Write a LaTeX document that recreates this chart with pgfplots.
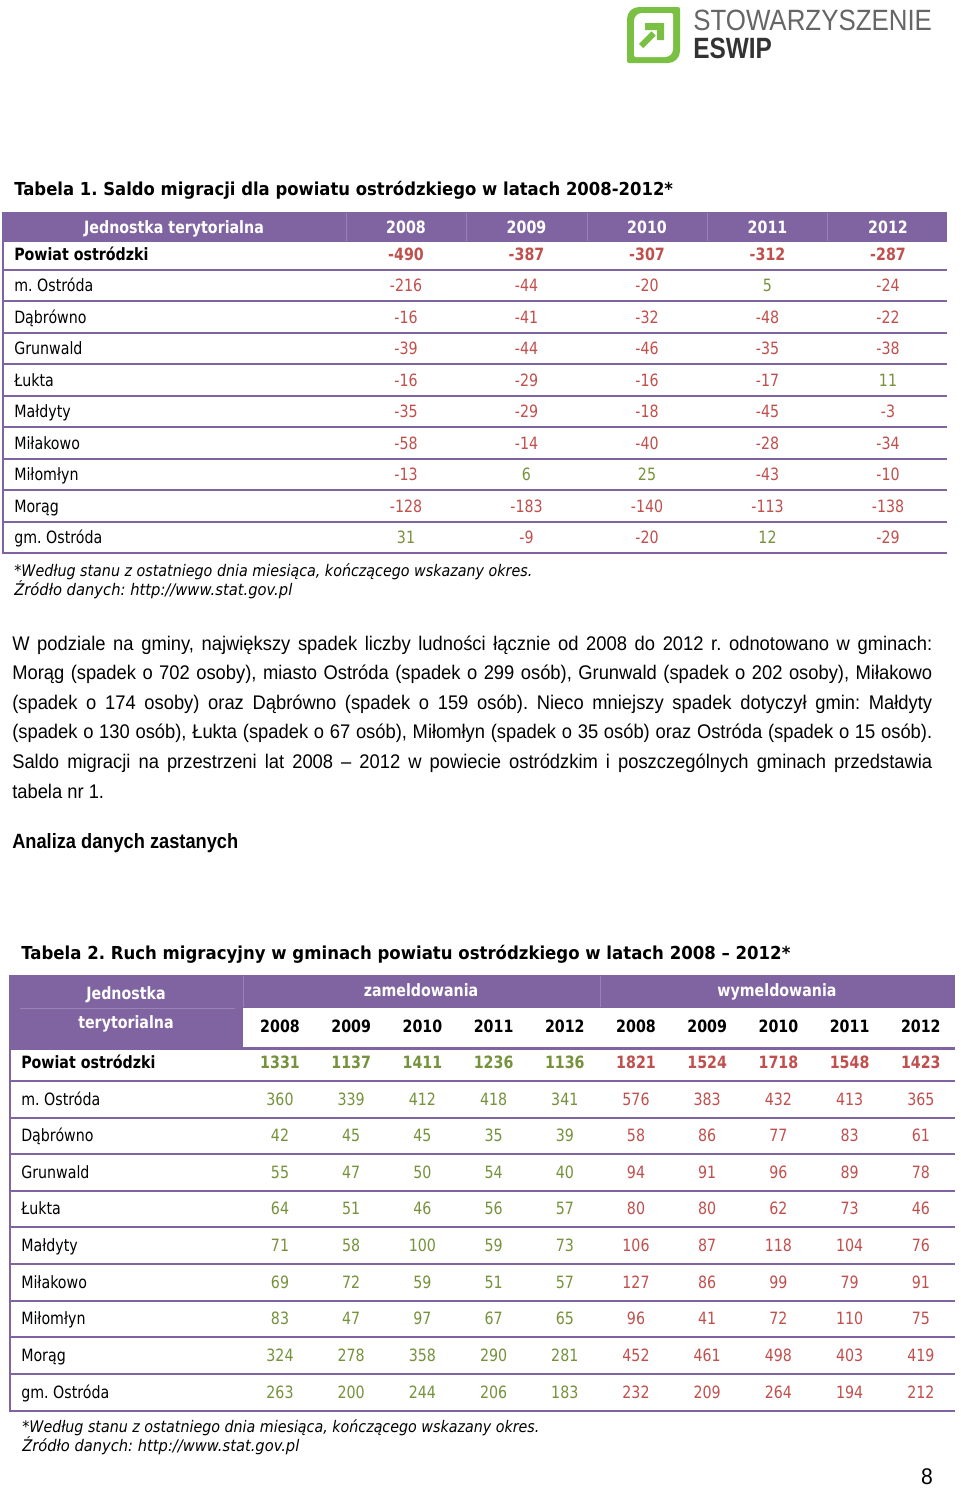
\documentclass[border=0pt]{standalone}
\usepackage{fontspec}
\usepackage{pgfplots}
\pgfplotsset{compat=1.18}
\usepackage{pgfplotstable}
\usepackage{graphicx}
\setmainfont{Liberation Sans}
\newfontfamily\tah[FakeStretch=0.84]{DejaVu Sans}
\newfontfamily\bodyf[FakeStretch=0.93]{Liberation Sans}
\newfontfamily\logof{Liberation Sans}
\definecolor{purp}{HTML}{8064A2}
\definecolor{purpl}{HTML}{9883B5}
\definecolor{cred}{HTML}{C0504D}
\definecolor{cgreen}{HTML}{76923C}
\definecolor{lgreen}{HTML}{7AC143}
\frenchspacing
\newcommand\fitw[2]{\resizebox{#1}{\height}{#2}}
\newcommand\sgncol[1]{\pgfmathparse{#1<0}\ifdim\pgfmathresult pt>0.5pt\color{cred}\else\color{cgreen}\fi#1}
\newcommand\tfont{\tah\fontsize{12.7}{15}\selectfont}
\newcommand\tbfont{\tah\bfseries\fontsize{12.7}{15}\selectfont}
\newcommand\pfont{\bodyf\fontsize{14.8}{17}\selectfont\frenchspacing}
\newcommand\jline[1]{\makebox[690pt][s]{#1}}

\pgfplotstableread[col sep=comma]{
y,name,c0,c1,c2,c3,c4
254,Powiat ostródzki,-490,-387,-307,-312,-287
}\tabAp
\pgfplotstableread[col sep=comma]{
y,name,c0,c1,c2,c3,c4
285.5,m. Ostróda,-216,-44,-20,5,-24
317,Dąbrówno,-16,-41,-32,-48,-22
348.5,Grunwald,-39,-44,-46,-35,-38
380,Łukta,-16,-29,-16,-17,11
411.5,Małdyty,-35,-29,-18,-45,-3
443,Miłakowo,-58,-14,-40,-28,-34
474.5,Miłomłyn,-13,6,25,-43,-10
506,Morąg,-128,-183,-140,-113,-138
537.5,gm. Ostróda,31,-9,-20,12,-29
}\tabA
\pgfplotstableread[col sep=comma]{
y,name,z0,z1,z2,z3,z4,w0,w1,w2,w3,w4
1062,Powiat ostródzki,1331,1137,1411,1236,1136,1821,1524,1718,1548,1423
}\tabBp
\pgfplotstableread[col sep=comma]{
y,name,z0,z1,z2,z3,z4,w0,w1,w2,w3,w4
1099,m. Ostróda,360,339,412,418,341,576,383,432,413,365
1135.5,Dąbrówno,42,45,45,35,39,58,86,77,83,61
1172,Grunwald,55,47,50,54,40,94,91,96,89,78
1208.5,Łukta,64,51,46,56,57,80,80,62,73,46
1245,Małdyty,71,58,100,59,73,106,87,118,104,76
1282,Miłakowo,69,72,59,51,57,127,86,99,79,91
1318.5,Miłomłyn,83,47,97,67,65,96,41,72,110,75
1355,Morąg,324,278,358,290,281,452,461,498,403,419
1392,gm. Ostróda,263,200,244,206,183,232,209,264,194,212
}\tabB

\begin{document}
\begin{tikzpicture}
\begin{axis}[
  scale only axis, width=720pt, height=1116pt,
  xmin=0, xmax=960, ymin=0, ymax=1488, y dir=reverse,
  hide axis, clip=false,
  cell/.style={draw=none, mark=none, forget plot, point meta=explicit symbolic, nodes near coords,
    every node near coord/.append style={anchor=base, yshift=-4.6pt, inner sep=0pt}},
  namecell/.style={cell, every node near coord/.append style={anchor=base west}},
]
\fill[white] (rel axis cs:0,0) rectangle (rel axis cs:1,1);

% ---- logo ----
\begin{scope}[shift={(axis cs:627,7)}, x=0.75pt, y=-0.75pt]
\fill[lgreen] (0,28) [rounded corners=9pt] -- (0,0) -- (26,0) [rounded corners=1.5pt] -- (53,0) -- (53,28) [rounded corners=9pt] -- (53,56) -- (26,56) [rounded corners=1.5pt] -- (0,56) -- cycle;
\fill[white] (7,28) [rounded corners=6pt] -- (7,6) -- (26,6) [rounded corners=1pt] -- (46,6) -- (46,28) [rounded corners=6pt] -- (46,50) -- (26,50) [rounded corners=1pt] -- (7,50) -- cycle;
\fill[lgreen] (18,16) -- (37,16) -- (37,33) -- (30,33) -- (30,23) -- (18,23) -- cycle;
\draw[lgreen, line width=4.5pt] (26.5,26.5) -- (14,39);
\end{scope}
\node[anchor=base west, inner sep=0pt, text=black!60] at (axis cs:693,30) {\fitw{179pt}{\logof\fontsize{22}{24}\selectfont STOWARZYSZENIE}};
\node[anchor=base west, inner sep=0pt, text=black!80] at (axis cs:693,58) {\fitw{59pt}{\logof\bfseries\fontsize{22}{24}\selectfont ESWIP}};

% ---- table 1 ----
\node[anchor=base west, inner sep=0pt] at (axis cs:14,195) {\fitw{494pt}{\tah\bfseries\fontsize{13.4}{16}\selectfont Tabela 1. Saldo migracji dla powiatu ostródzkiego w latach 2008-2012*}};
\fill[purp] (axis cs:3,212) rectangle (axis cs:947,242);
\pgfplotsinvokeforeach{346,466,587,707,827}{\draw[purpl, line width=0.6pt] (axis cs:#1,213) -- (axis cs:#1,241);}
\pgfplotsinvokeforeach{269.5,301,332.5,364,395.5,427,458.5,490,521.5,553}{\draw[purp, line width=1.5pt] (axis cs:3,#1) -- (axis cs:947,#1);}
\draw[purp, line width=1.5pt] (axis cs:3,212) -- (axis cs:3,554);
\node[anchor=base, inner sep=0pt, text=white] at (axis cs:174,233) {\tbfont Jednostka terytorialna};
\node[anchor=base, inner sep=0pt, text=white] at (axis cs:406,233) {\tbfont 2008};
\node[anchor=base, inner sep=0pt, text=white] at (axis cs:526.5,233) {\tbfont 2009};
\node[anchor=base, inner sep=0pt, text=white] at (axis cs:647,233) {\tbfont 2010};
\node[anchor=base, inner sep=0pt, text=white] at (axis cs:767.5,233) {\tbfont 2011};
\node[anchor=base, inner sep=0pt, text=white] at (axis cs:888,233) {\tbfont 2012};

\addplot[namecell, nodes near coords={\tbfont\pgfplotspointmeta}] table[x expr=14, y=y, meta=name] {\tabAp};
\addplot[namecell, nodes near coords={\tfont\pgfplotspointmeta}] table[x expr=14, y=y, meta=name] {\tabA};
\pgfplotsinvokeforeach{0,...,4}{
  \addplot[cell, nodes near coords={\tbfont\color{cred}\pgfplotspointmeta}] table[x expr={406+120.5*#1}, y=y, meta=c#1] {\tabAp};
  \addplot[cell, nodes near coords={\tfont\sgncol{\pgfplotspointmeta}}] table[x expr={406+120.5*#1}, y=y, meta=c#1] {\tabA};
}
\node[anchor=base west, inner sep=0pt] at (axis cs:14,576) {\fitw{388.5pt}{\tah\itshape\fontsize{12}{14}\selectfont *Według stanu z ostatniego dnia miesiąca, kończącego wskazany okres.}};
\node[anchor=base west, inner sep=0pt] at (axis cs:14,595) {\fitw{208.5pt}{\tah\itshape\fontsize{12}{14}\selectfont Źródło danych: http://www.stat.gov.pl}};

% ---- paragraph ----
\node[anchor=base west, inner sep=0pt] at (axis cs:12,650) {\pfont\jline{W podziale na gminy, największy spadek liczby ludności łącznie od 2008 do 2012 r. odnotowano w gminach:}};
\node[anchor=base west, inner sep=0pt] at (axis cs:12,679) {\pfont\jline{Morąg (spadek o 702 osoby), miasto Ostróda (spadek o 299 osób), Grunwald (spadek o 202 osoby), Miłakowo}};
\node[anchor=base west, inner sep=0pt] at (axis cs:12,709) {\pfont\jline{(spadek o 174 osoby) oraz Dąbrówno (spadek o 159 osób). Nieco mniejszy spadek dotyczył gmin: Małdyty}};
\node[anchor=base west, inner sep=0pt] at (axis cs:12,738) {\pfont\jline{(spadek o 130 osób), Łukta (spadek o 67 osób), Miłomłyn (spadek o 35 osób) oraz Ostróda (spadek o 15 osób).}};
\node[anchor=base west, inner sep=0pt] at (axis cs:12,768) {\pfont\jline{Saldo migracji na przestrzeni lat 2008 – 2012 w powiecie ostródzkim i poszczególnych gminach przedstawia}};
\node[anchor=base west, inner sep=0pt] at (axis cs:12,798) {\pfont tabela nr 1.};
\node[anchor=base west, inner sep=0pt] at (axis cs:12,848) {\fitw{169.5pt}{\bodyf\bfseries\fontsize{15.5}{18}\selectfont Analiza danych zastanych}};

% ---- table 2 ----
\node[anchor=base west, inner sep=0pt] at (axis cs:21,959.5) {\fitw{576.75pt}{\tah\bfseries\fontsize{13.4}{16}\selectfont Tabela 2. Ruch migracyjny w gminach powiatu ostródzkiego w latach 2008 – 2012*}};
\fill[purp] (axis cs:10,975) rectangle (axis cs:243,1048);
\fill[purp] (axis cs:243,975) rectangle (axis cs:955,1008);
\draw[purpl, line width=0.6pt] (axis cs:20,1008) -- (axis cs:235,1008);
\draw[purpl, line width=0.6pt] (axis cs:243,976) -- (axis cs:243,1007);
\draw[purpl, line width=0.6pt] (axis cs:600,976) -- (axis cs:600,1007);
\draw[purp, line width=2pt] (axis cs:10,1048.5) -- (axis cs:955,1048.5);
\pgfplotsinvokeforeach{1080.5,1117.5,1154,1190.5,1227,1264,1300.5,1337,1374,1411}{\draw[purp, line width=1.5pt] (axis cs:10,#1) -- (axis cs:955,#1);}
\draw[purp, line width=1.5pt] (axis cs:10,975) -- (axis cs:10,1412);
\node[anchor=base, inner sep=0pt, text=white] at (axis cs:126,999.5) {\tbfont Jednostka};
\node[anchor=base, inner sep=0pt, text=white] at (axis cs:126,1028) {\tbfont terytorialna};
\node[anchor=base, inner sep=0pt, text=white] at (axis cs:421,996) {\tbfont zameldowania};
\node[anchor=base, inner sep=0pt, text=white] at (axis cs:777,996) {\tbfont wymeldowania};
\pgfplotsinvokeforeach{0,...,4}{
  \node[anchor=base, inner sep=0pt] at (axis cs:{280+71.2*#1},1032) {\tbfont\pgfmathparse{int(2008+#1)}\pgfmathresult};
  \node[anchor=base, inner sep=0pt] at (axis cs:{636+71.2*#1},1032) {\tbfont\pgfmathparse{int(2008+#1)}\pgfmathresult};
}
\addplot[namecell, nodes near coords={\tbfont\pgfplotspointmeta}] table[x expr=21, y=y, meta=name] {\tabBp};
\addplot[namecell, nodes near coords={\tfont\pgfplotspointmeta}] table[x expr=21, y=y, meta=name] {\tabB};
\pgfplotsinvokeforeach{0,...,4}{
  \addplot[cell, nodes near coords={\tbfont\color{cgreen}\pgfplotspointmeta}] table[x expr={280+71.2*#1}, y=y, meta=z#1] {\tabBp};
  \addplot[cell, nodes near coords={\tfont\color{cgreen}\pgfplotspointmeta}] table[x expr={280+71.2*#1}, y=y, meta=z#1] {\tabB};
  \addplot[cell, nodes near coords={\tbfont\color{cred}\pgfplotspointmeta}] table[x expr={636+71.2*#1}, y=y, meta=w#1] {\tabBp};
  \addplot[cell, nodes near coords={\tfont\color{cred}\pgfplotspointmeta}] table[x expr={636+71.2*#1}, y=y, meta=w#1] {\tabB};
}
\node[anchor=base west, inner sep=0pt] at (axis cs:22,1432) {\fitw{387.75pt}{\tah\itshape\fontsize{12}{14}\selectfont *Według stanu z ostatniego dnia miesiąca, kończącego wskazany okres.}};
\node[anchor=base west, inner sep=0pt] at (axis cs:22,1451) {\fitw{207.75pt}{\tah\itshape\fontsize{12}{14}\selectfont Źródło danych: http://www.stat.gov.pl}};
\node[anchor=base east, inner sep=0pt] at (axis cs:933,1484) {\bodyf\fontsize{17}{19}\selectfont 8};
\end{axis}
\end{tikzpicture}
\end{document}
